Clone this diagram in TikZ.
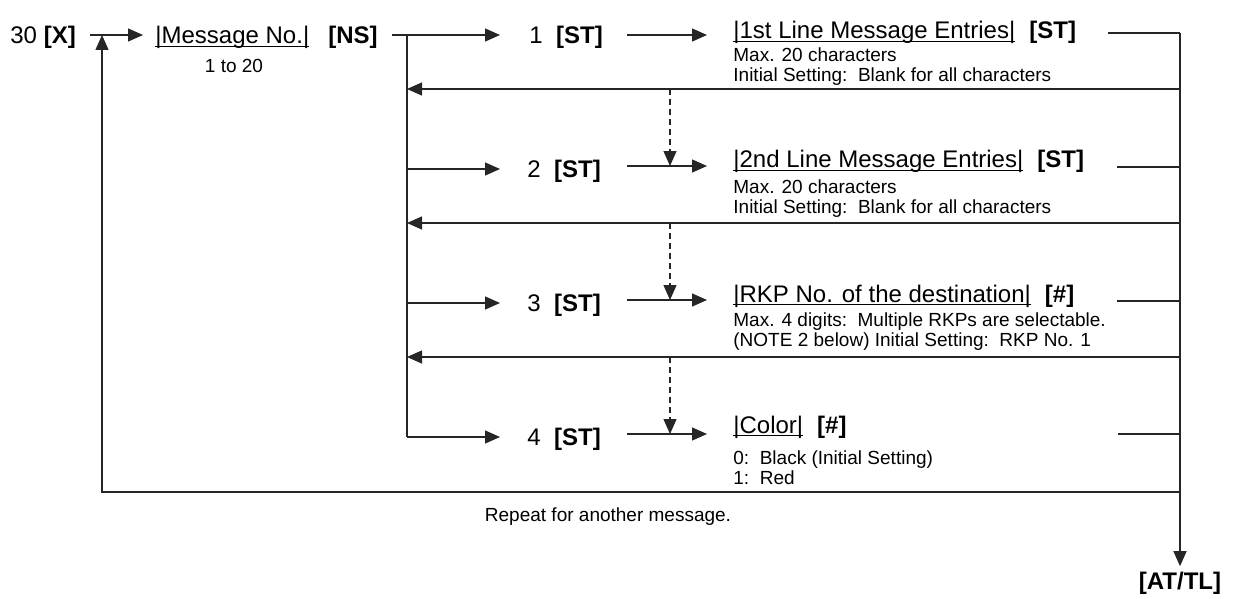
\documentclass[tikz,border=0pt]{standalone}
\usepackage{fontspec}
\setmainfont{Liberation Sans}
\usetikzlibrary{arrows.meta}
\newcommand{\keygap}{\hspace{7pt}}
\newcommand{\fieldname}[1]{\underline{\smash{#1}}}

\begin{document}
\begin{tikzpicture}[
  x=0.5pt,y=-0.5pt,
  lbl/.style={font=\fontsize{12}{14}\selectfont,inner sep=0pt,anchor=base west},
  note/.style={font=\fontsize{9.5}{10}\selectfont,inner sep=0pt,align=left,anchor=north west},
  ln/.style={line width=0.65pt,draw=black!85},
  arr/.style={ln,-{Triangle[length=7.5pt,width=6.5pt]}},
  dsh/.style={arr,dash pattern=on 3pt off 2pt}]
  \useasboundingbox (0,0) rectangle (1236,599);
  % message number
  \node[lbl] (start) at (10,44) {30 \textbf{[X]}};
  \node[lbl] (msg) at (155,44) {\fieldname{|Message No.|}};
  \node[lbl] (ns) at (328,44) {\textbf{[NS]}};
  \node[note,anchor=north] (range) at (234,59) {1 to 20};
  % selections
  \node[lbl] (sel1) at (529,44) {1\ \ \textbf{[ST]}};
  \node[lbl] (sel2) at (527,177) {2\ \ \textbf{[ST]}};
  \node[lbl] (sel3) at (527,311) {3\ \ \textbf{[ST]}};
  \node[lbl] (sel4) at (527,445) {4\ \ \textbf{[ST]}};
  % entries
  \node[lbl] (ent1) at (733,39) {\fieldname{|1st Line Message Entries|}\keygap\textbf{[ST]}};
  \node[note] (desc1) at (733,47) {Max. 20 characters\\Initial Setting:\ \ Blank for all characters};
  \node[lbl] (ent2) at (733,168) {\fieldname{|2nd Line Message Entries|}\keygap\textbf{[ST]}};
  \node[note] (desc2) at (733,179) {Max. 20 characters\\Initial Setting:\ \ Blank for all characters};
  \node[lbl] (ent3) at (733,302) {\fieldname{|RKP No. of the destination|}\keygap\textbf{[\#]}};
  \node[note] (desc3) at (733,312) {Max. 4 digits:\ \ Multiple RKPs are selectable.\\(NOTE 2 below) Initial Setting:\ \ RKP No. 1};
  \node[lbl] (ent4) at (733,433) {\fieldname{|Color|}\keygap\textbf{[\#]}};
  \node[note] (desc4) at (733,450) {0:\ \ Black (Initial Setting)\\1:\ \ Red};
  \node[note,anchor=north] (rep) at (608,507) {Repeat for another message.};
  \node[lbl,anchor=base] (end) at (1180,589) {\textbf{[AT/TL]}};
  % junctions
  \coordinate (xout) at (90,35);
  \coordinate (msgin) at (143,35);
  \coordinate (loop) at (102,492);
  \coordinate (nsout) at (392,35);
  \coordinate (bus) at (407,35);
  \coordinate (rail) at (1180,33);
  \coordinate (ret1) at (1180,89);
  \coordinate (ret2) at (1180,223);
  \coordinate (ret3) at (1180,357);
  \coordinate (back) at (1180,492);
  % connectors
  \draw[arr] (xout) -- (msgin);
  \draw[arr] (back) -- (loop) -- (loop |- msgin);
  \draw[arr] (nsout) -- (500,35);
  \draw[ln] (bus) -- (407,437);
  \draw[arr] (407,169) -- (500,169);
  \draw[arr] (407,303) -- (500,303);
  \draw[arr] (407,437) -- (500,437);
  \draw[arr] (627,35) -- (707,35);
  \draw[arr] (627,166) -- (707,166);
  \draw[arr] (627,300) -- (707,300);
  \draw[arr] (627,434) -- (707,434);
  \draw[ln] (1108,33) -- (rail);
  \draw[ln] (1117,167) -- (1180,167);
  \draw[ln] (1117,301) -- (1180,301);
  \draw[ln] (1118,434) -- (1180,434);
  \draw[arr] (ret1) -- (ret1 -| bus);
  \draw[arr] (ret2) -- (ret2 -| bus);
  \draw[arr] (ret3) -- (ret3 -| bus);
  \draw[dsh] (670,89) -- (670,166);
  \draw[dsh] (670,223) -- (670,300);
  \draw[dsh] (670,357) -- (670,434);
  \draw[arr,shorten >=2.5pt] (rail) -- (rail |- end.north);
\end{tikzpicture}
\end{document}
